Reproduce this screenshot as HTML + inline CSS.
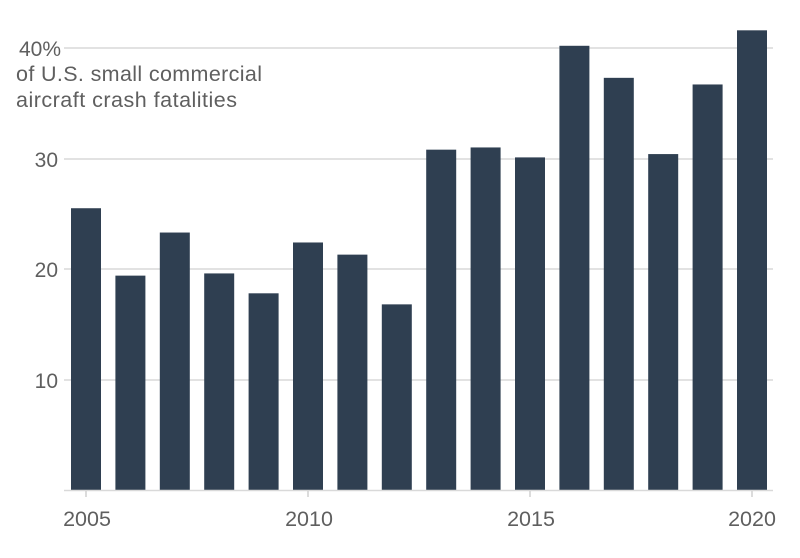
<html><body style="margin:0;background:#fff">
<svg width="800" height="558" xmlns="http://www.w3.org/2000/svg" font-family="Liberation Sans, sans-serif" fill="#5f5f5f">
<g stroke="#d9d9d9" stroke-width="1.5">
<line x1="64" y1="48" x2="773" y2="48"/><line x1="64" y1="159" x2="773" y2="159"/>
<line x1="64" y1="269" x2="773" y2="269"/><line x1="64" y1="380" x2="773" y2="380"/>
</g>
<g font-size="21" text-anchor="end">
<text x="61" y="56">40%</text><text x="58" y="167">30</text><text x="58" y="277">20</text><text x="58" y="388">10</text>
</g>
<text x="16" y="81" font-size="21.5" textLength="246">of U.S. small commercial</text>
<text x="16" y="107" font-size="21.5" textLength="221">aircraft crash fatalities</text>
<g fill="#2f3f51" id="b"></g>
<line x1="64" y1="490.5" x2="773" y2="490.5" stroke="#d9d9d9" stroke-width="1.5"/>
<g stroke="#d0d0d0" stroke-width="1.5">
<line x1="86" y1="491" x2="86" y2="497"/><line x1="308" y1="491" x2="308" y2="497"/><line x1="530" y1="491" x2="530" y2="497"/><line x1="752" y1="491" x2="752" y2="497"/>
</g>
<g font-size="21.5" text-anchor="middle">
<text x="87" y="526">2005</text><text x="309" y="526">2010</text><text x="531" y="526">2015</text><text x="752" y="526">2020</text>
</g>
</svg>
<script>
var v=[25.5,19.4,23.3,19.6,17.8,22.4,21.3,16.8,30.8,31.0,30.1,40.2,37.3,30.4,36.7,41.6];
var g=document.getElementById('b'),s='';
v.forEach(function(d,i){var c=86+i*44.4,h=d*11.05;s+='<rect x="'+(c-15)+'" y="'+(490-h)+'" width="30" height="'+h+'"/>';});
g.innerHTML=s;
</script>
</body></html>
